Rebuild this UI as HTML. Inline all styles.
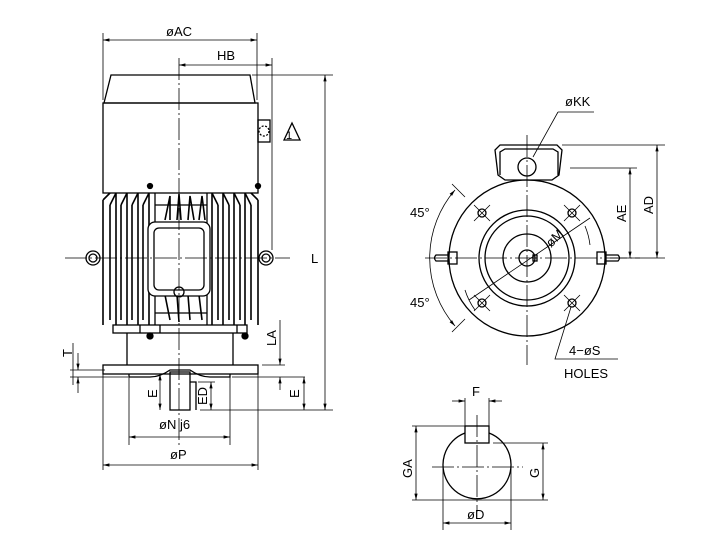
<!DOCTYPE html>
<html><head><style>body{margin:0;background:#fff}svg{display:block}text{font-family:"Liberation Sans",sans-serif;font-size:13px;fill:#000;stroke:none}</style></head><body>
<svg width="716" height="553" viewBox="0 0 716 553" fill="none" stroke="#000" stroke-width="1.3">
<defs><marker id="a" markerWidth="8" markerHeight="6" refX="8" refY="3" orient="auto-start-reverse"><path d="M0,1 L8,3 L0,5" fill="#000" stroke="none"/></marker></defs>
<!-- LEFT VIEW -->
<path d="M111,75 L250,75 L255,103 L104,103 Z"/>
<rect x="103" y="103" width="155" height="90"/>
<rect x="258" y="120" width="12" height="22"/>
<circle cx="264" cy="131" r="5" stroke-dasharray="2 1.5"/>
<path d="M284,140 L292,123 L300,140 Z"/><text x="286" y="139" style="font-size:11px">1</text>
<!-- fins -->
<g stroke-width="1.6">
<path d="M103,200 L110,193 M103,200 L103,325"/>
<path d="M258,200 L251,193 M258,200 L258,325"/>
<path d="M110,205 L116,193 L116,325 M121,205 L127,193 L127,325 M132,205 L138,193 L138,325 M143,205 L149,193 L149,325"/>
<path d="M251,205 L245,193 L245,325 M240,205 L234,193 L234,325 M229,205 L223,193 L223,325 M218,205 L212,193 L212,325"/>
<path d="M110,205 L110,320 M121,205 L121,320 M132,205 L132,320 M143,205 L143,320"/>
<path d="M251,205 L251,320 M240,205 L240,320 M229,205 L229,320 M218,205 L218,320"/>
<path d="M165,220 L170,196 L170,220 M177,220 L179,194 L181,220 M188,220 L190,196 L194,220 M199,220 L202,196 L205,220"/>
<path d="M165,295 L170,320 M177,295 L179,322 M188,295 L190,320 M199,295 L202,320"/>
</g>
<path d="M155,193 L155,325 M207,193 L207,325 M155,205 L207,205 M155,313 L207,313"/>
<rect x="148" y="222" width="62" height="74" rx="7" fill="#fff"/>
<rect x="154" y="228" width="50" height="62" rx="5"/>
<circle cx="179" cy="292" r="5"/>
<circle cx="150" cy="186" r="2.5" fill="#000"/><circle cx="258" cy="186" r="2.5" fill="#000"/>
<circle cx="93" cy="258" r="7"/><circle cx="93" cy="258" r="4"/>
<circle cx="266" cy="258" r="7"/><circle cx="266" cy="258" r="4"/>
<rect x="113" y="325" width="134" height="8"/>
<path d="M140,325 L140,333 M160,325 L160,333 M237,325 L237,333"/>
<circle cx="150" cy="336" r="3" fill="#000"/><circle cx="245" cy="336" r="3" fill="#000"/>
<path d="M127,333 L127,365 M233,333 L233,365"/>
<rect x="103" y="365" width="155" height="9"/>
<path d="M129,374 L129,377 L150,377 Q160,377 170,370 L190,370 Q200,377 210,377 L230,377 L230,374"/>
<rect x="170" y="372" width="20" height="38"/>
<path d="M190,382 L196,382 L196,410"/>
<!-- centerlines -->
<g stroke-width="0.8" stroke-dasharray="22 3 2 3">
<path d="M179,58 L179,445"/><path d="M65,258 L290,258"/>
<path d="M527,135 L527,365"/><path d="M425,258 L640,258"/>
<path d="M477,415 L477,512"/><path d="M432,467 L523,467"/>
</g>
<!-- dimensions left -->
<g stroke-width="0.8">
<path d="M103,33 L103,100 M257,33 L257,100"/>
<path d="M103,40 L257,40" marker-start="url(#a)" marker-end="url(#a)"/>
<path d="M272,58 L272,250"/>
<path d="M179,65 L272,65" marker-start="url(#a)" marker-end="url(#a)"/>
<path d="M252,75 L333,75 M200,410 L333,410"/>
<path d="M325,75 L325,410" marker-start="url(#a)" marker-end="url(#a)"/>
<path d="M73,343 L73,385 M70,370 L105,370 M70,377 L128,377"/>
<path d="M78,353 L78,370" marker-end="url(#a)"/><path d="M78,393 L78,377" marker-end="url(#a)"/>
<path d="M262,365 L285,365 M232,377 L305,377"/>
<path d="M280,320 L280,365" marker-end="url(#a)"/><path d="M280,390 L280,377" marker-end="url(#a)"/>
<path d="M304,377 L304,410" marker-start="url(#a)" marker-end="url(#a)"/>
<path d="M160,374 L160,410" marker-start="url(#a)" marker-end="url(#a)"/>
<path d="M198,382 L215,382"/>
<path d="M211,382 L211,410" marker-start="url(#a)" marker-end="url(#a)"/>
<path d="M129,377 L129,445 M230,377 L230,445 M103,374 L103,470 M258,374 L258,470"/>
<path d="M129,437 L230,437" marker-start="url(#a)" marker-end="url(#a)"/>
<path d="M103,465 L258,465" marker-start="url(#a)" marker-end="url(#a)"/>
</g>
<text x="166" y="36">øAC</text><text x="217" y="60">HB</text>
<text x="311" y="263">L</text>
<text transform="translate(72,357) rotate(-90)">T</text>
<text transform="translate(276,346) rotate(-90)">LA</text>
<text transform="translate(299,398) rotate(-90)">E</text>
<text transform="translate(157,398) rotate(-90)">E</text>
<text transform="translate(207,405) rotate(-90)">ED</text>
<text x="159" y="429">øN  j6</text>
<text x="170" y="459">øP</text>
<!-- RIGHT VIEW -->
<path d="M505,180 L498,175 L495,150 L500,145 L557,145 L562,150 L559,175 L552,180 Z"/>
<path d="M500,175 L500,152 L505,149 L553,149 L558,152 L558,175"/>
<circle cx="527" cy="167" r="9"/>
<circle cx="527" cy="258" r="78"/>
<circle cx="527" cy="258" r="48"/><circle cx="527" cy="258" r="42"/>
<circle cx="527" cy="258" r="24"/><circle cx="527" cy="258" r="8"/>
<rect x="533" y="255" width="4" height="6"/>
<g><circle cx="482" cy="213" r="4"/><circle cx="572" cy="213" r="4"/><circle cx="482" cy="303" r="4"/><circle cx="572" cy="303" r="4"/></g>
<g stroke-width="0.8"><path d="M474,205 L490,221 M490,205 L474,221 M564,205 L580,221 M580,205 L564,221 M474,295 L490,311 M490,295 L474,311 M564,295 L580,311 M580,295 L564,311"/></g>
<rect x="448" y="252" width="9" height="12"/><path d="M448,255 L436,255 Q433,258 436,261 L448,261"/>
<rect x="597" y="252" width="9" height="12"/><path d="M606,255 L618,255 Q621,258 618,261 L606,261"/>
<g stroke-width="0.8">
<path d="M452,184 L465,197 M452,332 L465,319"/>
<path d="M455,190 A104,104 0 0 0 455,326" marker-start="url(#a)" marker-end="url(#a)"/>
<path d="M469,300 L590,218 M465,290 A70,70 0 0 0 475,310 M585,226 A70,70 0 0 1 590,245"/>
<path d="M558,112 L594,112 M558,112 L533,157"/>
<path d="M562,145 L665,145 M570,168 L637,168 M610,258 L665,258"/>
<path d="M657,145 L657,258" marker-start="url(#a)" marker-end="url(#a)"/>
<path d="M630,168 L630,258" marker-start="url(#a)" marker-end="url(#a)"/>
<path d="M571,307 L555,359 L618,359"/>
</g>
<text x="565" y="106">øKK</text>
<text x="410" y="217">45°</text><text x="410" y="307">45°</text>
<text transform="translate(551,248) rotate(-45)">øM</text>
<text transform="translate(626,222) rotate(-90)">AE</text>
<text transform="translate(653,214) rotate(-90)">AD</text>
<text x="569" y="355">4−øS</text><text x="564" y="378">HOLES</text>
<!-- SHAFT SECTION -->
<path d="M465,433 A34,34 0 1 0 489,433"/>
<rect x="465" y="426" width="24" height="17"/>
<g stroke-width="0.8">
<path d="M465,398 L465,426 M489,398 L489,426"/>
<path d="M452,401 L465,401" marker-end="url(#a)"/><path d="M502,401 L489,401" marker-end="url(#a)"/>
<path d="M412,426 L465,426 M412,500 L548,500 M493,443 L548,443"/>
<path d="M416,426 L416,500" marker-start="url(#a)" marker-end="url(#a)"/>
<path d="M543,443 L543,500" marker-start="url(#a)" marker-end="url(#a)"/>
<path d="M443,467 L443,530 M511,467 L511,530"/>
<path d="M443,523 L511,523" marker-start="url(#a)" marker-end="url(#a)"/>
</g>
<text x="472" y="396">F</text>
<text transform="translate(412,478) rotate(-90)">GA</text>
<text transform="translate(539,478) rotate(-90)">G</text>
<text x="467" y="519">øD</text>
</svg>
</body></html>
